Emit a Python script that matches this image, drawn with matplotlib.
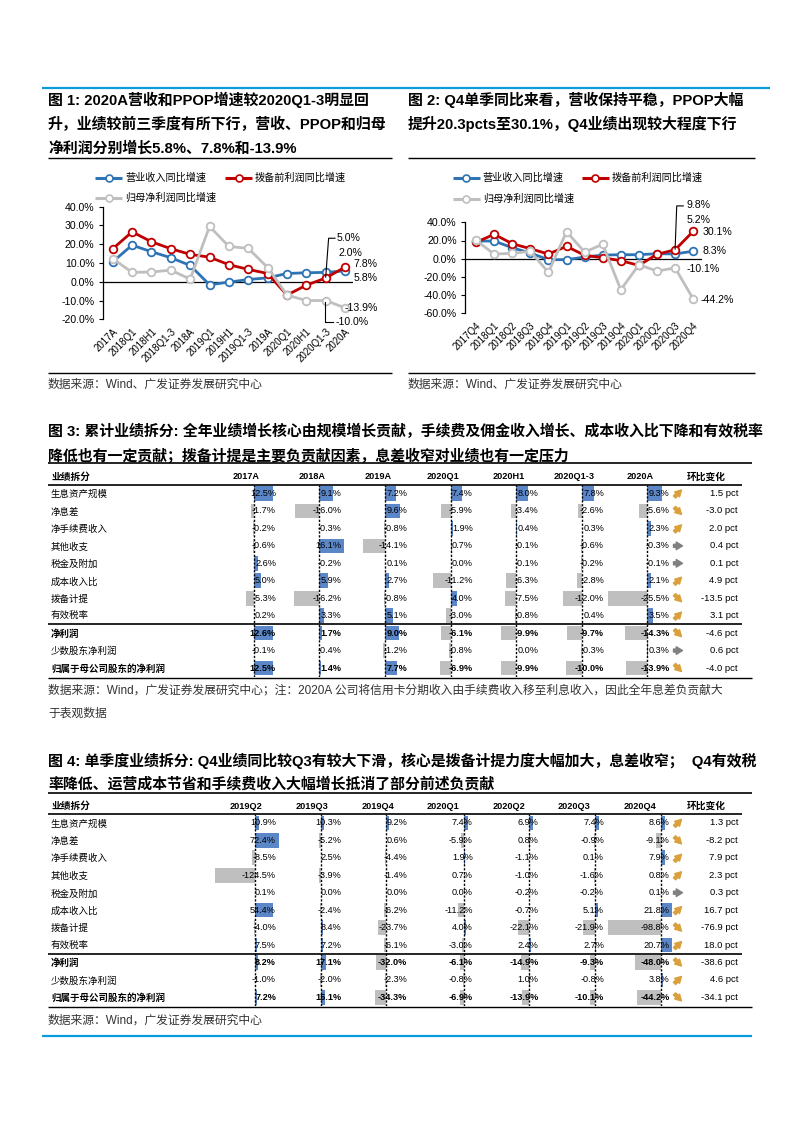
import matplotlib
matplotlib.use('Agg')
import matplotlib.pyplot as plt
import numpy as np

plt.rcParams['font.family'] = ['Liberation Sans', 'Noto Sans CJK SC', 'DejaVu Sans']
plt.rcParams['axes.unicode_minus'] = False

W, H = 793, 1122

# ---------------- chart data ----------------
cats1 = ['2017A', '2018Q1', '2018H1', '2018Q1-3', '2018A', '2019Q1', '2019H1',
         '2019Q1-3', '2019A', '2020Q1', '2020H1', '2020Q1-3', '2020A']
rev1 = [10.7, 19.5, 16.0, 12.8, 8.7, -1.6, -0.2, 1.2, 2.1, 4.4, 4.8, 5.0, 5.8]
ppop1 = [17.6, 26.6, 21.3, 17.6, 14.6, 13.1, 9.1, 6.6, 4.4, -7.1, -1.8, 2.0, 7.8]
np1 = [12.3, 5.0, 5.2, 6.2, 1.4, 29.5, 18.8, 17.8, 7.6, -7.1, -10.0, -10.0, -13.9]

cats2 = ['2017Q4', '2018Q1', '2018Q2', '2018Q3', '2018Q4', '2019Q1', '2019Q2',
         '2019Q3', '2019Q4', '2020Q1', '2020Q2', '2020Q3', '2020Q4']
rev2 = [19.4, 19.4, 12.1, 6.2, -1.1, -1.1, 1.8, 4.0, 4.4, 4.4, 5.5, 5.2, 8.3]
ppop2 = [18.0, 26.8, 16.5, 11.0, 5.1, 13.6, 3.7, 1.1, -2.2, -7.3, 4.8, 9.8, 30.1]
np2 = [20.2, 5.1, 5.9, 8.1, -15.0, 29.7, 7.3, 15.8, -34.1, -6.6, -13.6, -10.1, -44.2]

legend_labels = ['营业收入同比增速', '拨备前利润同比增速', '归母净利润同比增速']

# ---------------- table data ----------------
rows = ['生息资产规模', '净息差', '净手续费收入', '其他收支', '税金及附加', '成本收入比',
        '拨备计提', '有效税率', '净利润', '少数股东净利润', '归属于母公司股东的净利润']
bold_rows = [8, 10]

t3_cols = ['2017A', '2018A', '2019A', '2020Q1', '2020H1', '2020Q1-3', '2020A']
t3_2017A = [12.5, -1.7, -0.2, -0.6, 2.6, 5.0, -5.3, 0.2, 12.6, -0.1, 12.5]
t3_2018A = [9.1, -16.0, -0.3, 16.1, -0.2, 5.9, -16.2, 3.3, 1.7, -0.4, 1.4]
t3_2019A = [7.2, 9.6, -0.8, -14.1, 0.1, 2.7, -0.8, 5.1, 9.0, -1.2, 7.7]
t3_2020Q1 = [7.4, -5.9, 1.9, 0.7, 0.0, -11.2, 4.0, -3.0, -6.1, -0.8, -6.9]
t3_2020H1 = [8.0, -3.4, 0.4, -0.1, -0.1, -6.3, -7.5, -0.8, -9.9, 0.0, -9.9]
t3_2020Q13 = [7.8, -2.6, 0.3, -0.6, -0.2, -2.8, -12.0, 0.4, -9.7, -0.3, -10.0]
t3_2020A = [9.3, -5.6, 2.3, -0.3, -0.1, 2.1, -25.5, 3.5, -14.3, 0.3, -13.9]
t3_change = [1.5, -3.0, 2.0, 0.4, 0.1, 4.9, -13.5, 3.1, -4.6, 0.6, -4.0]

t4_cols = ['2019Q2', '2019Q3', '2019Q4', '2020Q1', '2020Q2', '2020Q3', '2020Q4']
t4_2019Q2 = [10.9, 72.4, -8.5, -124.5, 0.1, 54.4, -4.0, 7.5, 8.2, -1.0, 7.2]
t4_2019Q3 = [10.3, -5.2, 2.5, -3.9, 0.0, -2.4, 8.4, 7.2, 17.1, -2.0, 15.1]
t4_2019Q4 = [9.2, 0.6, -4.4, -1.4, 0.0, -6.2, -23.7, -6.1, -32.0, -2.3, -34.3]
t4_2020Q1 = [7.4, -5.9, 1.9, 0.7, 0.0, -11.2, 4.0, -3.0, -6.1, -0.8, -6.9]
t4_2020Q2 = [6.9, 0.8, -1.1, -1.0, -0.2, -0.7, -22.1, 2.4, -14.9, 1.0, -13.9]
t4_2020Q3 = [7.4, -0.9, 0.1, -1.6, -0.2, 5.1, -21.9, 2.7, -9.3, -0.8, -10.1]
t4_2020Q4 = [8.6, -9.1, 7.9, 0.8, 0.1, 21.8, -98.8, 20.7, -48.0, 3.8, -44.2]
t4_change = [1.3, -8.2, 7.9, 2.3, 0.3, 16.7, -76.9, 18.0, -38.6, 4.6, -34.1]

# ---------------- texts ----------------
title1 = ['图 1: 2020A营收和PPOP增速较2020Q1-3明显回',
          '升，业绩较前三季度有所下行，营收、PPOP和归母',
          '净利润分别增长5.8%、7.8%和-13.9%']
title2 = ['图 2: Q4单季同比来看，营收保持平稳，PPOP大幅',
          '提升20.3pcts至30.1%，Q4业绩出现较大程度下行']
title3 = ['图 3: 累计业绩拆分: 全年业绩增长核心由规模增长贡献，手续费及佣金收入增长、成本收入比下降和有效税率',
          '降低也有一定贡献；拨备计提是主要负贡献因素，息差收窄对业绩也有一定压力']
title4 = ['图 4: 单季度业绩拆分: Q4业绩同比较Q3有较大下滑，核心是拨备计提力度大幅加大，息差收窄；  Q4有效税',
          '率降低、运营成本节省和手续费收入大幅增长抵消了部分前述负贡献']
src12 = '数据来源：Wind、广发证券发展研究中心'
src3 = ['数据来源：Wind，广发证券发展研究中心；注：2020A 公司将信用卡分期收入由手续费收入移至利息收入，因此全年息差负贡献大',
        '于表观数据']
src4 = '数据来源：Wind，广发证券发展研究中心'

BLUE_L, RED_L, GREY_L = '#2E74B5', '#C00000', '#BFBFBF'
BAR_POS, BAR_NEG = '#5B87C9', '#BFBFBF'
ICON, ICON_FLAT = '#D9A03C', '#808080'
RULE = '#0A9BDD'
TFS, SFS = 10.75, 8.5

fig = plt.figure(figsize=(W / 100, H / 100), dpi=100)
pg = fig.add_axes([0, 0, 1, 1])
pg.set_xlim(0, W)
pg.set_ylim(H, 0)
pg.axis('off')
pg.set_zorder(10)


def px_axes(x0, y0, x1, y1):
    return fig.add_axes([x0 / W, 1 - y1 / H, (x1 - x0) / W, (y1 - y0) / H])


def hline(y, x0, x1, color='black', lw=1.0):
    pg.plot([x0, x1], [y, y], color=color, lw=lw, solid_capstyle='butt')


# page frame lines
hline(88, 42, 770, RULE, 1.6)
hline(1036, 42, 752, RULE, 1.6)

for i, t in enumerate(title1):
    pg.text(48, 100 + i * 24, t, fontsize=TFS, fontweight='bold', va='center')
for i, t in enumerate(title2):
    pg.text(408, 100 + i * 24, t, fontsize=TFS, fontweight='bold', va='center')
hline(158, 48, 392)
hline(158, 408, 755)
hline(373, 48, 392)
hline(373, 408, 755)
pg.text(48, 385, src12, fontsize=SFS, color='#333333', va='center')
pg.text(408, 385, src12, fontsize=SFS, color='#333333', va='center')


# ---------------- line charts ----------------
def legend(x_first, x_second, y1, y2):
    spots = [(x_first, y1), (x_second, y1), (x_first, y2)]
    for (x, y), c, lab in zip(spots, [BLUE_L, RED_L, GREY_L], legend_labels):
        pg.plot([x, x + 27], [y, y], color=c, lw=2.2, solid_capstyle='butt')
        pg.plot([x + 13.5], [y], marker='o', ms=5, mfc='white', mec=c, mew=1.2)
        pg.text(x + 30, y, lab, fontsize=7.3, va='center', ha='left')


def line_chart(ax, cats, series, ylim, step, xlim):
    x = np.arange(len(cats))
    for vals, c in zip(series, [BLUE_L, RED_L, GREY_L]):
        ax.plot(x, vals, color=c, lw=2.0, marker='o', ms=5.5, mfc='white',
                mec=c, mew=1.3, zorder=3, clip_on=False)
    ax.axhline(0, color='black', lw=0.9, zorder=2)
    ax.set_xlim(*xlim)
    ax.set_ylim(*ylim)
    ax.set_facecolor('none')
    for s in ['top', 'right', 'bottom']:
        ax.spines[s].set_visible(False)
    ax.spines['left'].set_linewidth(0.9)
    ax.set_yticks(np.arange(ylim[0], ylim[1] + 0.1, step))
    ax.yaxis.set_major_formatter(plt.FuncFormatter(lambda v, p: f'{v:.1f}%'))
    ax.set_xticks(x)
    ax.set_xticklabels(cats, rotation=45, ha='right', rotation_mode='anchor')
    ax.tick_params(axis='x', length=0, pad=5, labelsize=7)
    ax.tick_params(axis='y', length=3, width=0.8, pad=3, labelsize=7.6)


def leader(ax, pts, label_xy, text):
    xs, ys = zip(*pts)
    ax.plot(xs, ys, color='black', lw=0.8, clip_on=False, zorder=4)
    ax.text(label_xy[0], label_xy[1], text, fontsize=7.6, va='center', clip_on=False)


legend(95, 225, 178, 198)
ax1 = px_axes(102.7, 206.7, 353, 319.3)
line_chart(ax1, cats1, [rev1, ppop1, np1], (-20, 40), 10, (-0.52, 12.41))
leader(ax1, [(11.0, 2.5), (11.15, 23.2), (11.48, 23.2)], (11.57, 23.2), '5.0%')
ax1.text(11.64, 15.3, '2.0%', fontsize=7.6, va='center')
ax1.text(12.43, 9.5, '7.8%', fontsize=7.6, va='center', clip_on=False)
ax1.text(12.43, 2.0, '5.8%', fontsize=7.6, va='center', clip_on=False)
ax1.text(11.95, -14.0, '-13.9%', fontsize=7.6, va='center', clip_on=False)
leader(ax1, [(10.97, -10.6), (10.97, -21.3), (11.4, -21.3)], (11.5, -21.3), '-10.0%')

legend(452.7, 581.7, 178, 199)
ax2 = px_axes(465, 222.3, 701.7, 313.3)
line_chart(ax2, cats2, [rev2, ppop2, np2], (-60, 40), 20, (-0.61, 12.47))
leader(ax2, [(11.0, 10.5), (11.09, 58.0), (11.45, 58.0)], (11.65, 58.6), '9.8%')
ax2.text(11.65, 42.0, '5.2%', fontsize=7.6, va='center', clip_on=False)
ax2.text(12.54, 29.7, '30.1%', fontsize=7.6, va='center', clip_on=False)
ax2.text(12.54, 8.4, '8.3%', fontsize=7.6, va='center', clip_on=False)
ax2.text(11.65, -11.0, '-10.1%', fontsize=7.6, va='center', clip_on=False)
ax2.text(12.38, -45.0, '-44.2%', fontsize=7.6, va='center', clip_on=False)

# ---------------- tables ----------------
COL_X0, COL_STEP, CELL_W = 246.5, 65.6, 64
ROW_STEP = 17.45


def arrow_icon(x, y, d):
    if abs(d) < 1:
        a, b, c = (x - 4.5, y), (x + 4.5, y), ICON_FLAT
        hw = 0.55
    elif d > 0:
        a, b, c = (x - 3.5, y + 3.5), (x + 3.5, y - 3.5), ICON
        hw = 0.5
    else:
        a, b, c = (x - 3.5, y - 3.5), (x + 3.5, y + 3.5), ICON
        hw = 0.5
    pg.annotate('', xy=b, xytext=a,
                arrowprops=dict(arrowstyle=f'simple,head_length=0.45,head_width={hw},tail_width=0.22',
                                color=c, shrinkA=0, shrinkB=0, mutation_scale=10))


def draw_table(top, titles, columns, values, change, groups):
    for i, t in enumerate(titles):
        pg.text(48, top - 32 + i * 24, t, fontsize=TFS, fontweight='bold', va='center')
    n = len(rows)
    row0 = top + 30.2
    y_head = top + 13.4
    y_under = top + 21.7
    y_bottom = row0 + ROW_STEP * (n - 0.5) + 1
    hline(top, 48, 752, lw=1.2)
    hline(y_under, 48, 742, lw=1.2)
    hline(row0 + ROW_STEP * 7.5, 48, 742, lw=1.2)
    hline(y_bottom, 48, 752, lw=1.0)
    pg.text(51, y_head, '业绩拆分', fontsize=7, fontweight='bold', va='center')
    pg.text(706.7, y_head, '环比变化', fontsize=7, fontweight='bold', va='center', ha='center')
    for i, lab in enumerate(rows):
        pg.text(51, row0 + i * ROW_STEP + 1, lab, fontsize=6.8, va='center',
                fontweight='bold' if i in bold_rows else 'normal')
    for j, (col, vals) in enumerate(zip(columns, values)):
        cx = COL_X0 + j * COL_STEP
        pg.text(cx, y_head, col, fontsize=6.6, fontweight='bold', ha='center', va='center')
        lo, hi = groups[j]
        ax = px_axes(cx - CELL_W / 2, row0 - ROW_STEP / 2, cx + CELL_W / 2,
                     row0 + ROW_STEP * (n - 0.5))
        ax.set_xlim(lo, hi)
        ax.set_ylim(n - 0.5, -0.5)
        ax.axis('off')
        ax.barh(np.arange(n), vals, height=0.84,
                color=[BAR_POS if v > 0 else BAR_NEG for v in vals])
        ax.axvline(0, color='black', lw=1.0, ls=(0, (1.6, 1.2)))
        for i, v in enumerate(vals):
            pg.text(cx + CELL_W / 2 - 2.5, row0 + i * ROW_STEP, f'{v:.1f}%', fontsize=6.6,
                    ha='right', va='center',
                    fontweight='bold' if i in bold_rows else 'normal')
    for i, d in enumerate(change):
        y = row0 + i * ROW_STEP
        arrow_icon(678, y, d)
        pg.text(738, y, f'{d:.1f} pct', fontsize=6.8, ha='right', va='center')


t3_values = [t3_2017A, t3_2018A, t3_2019A, t3_2020Q1, t3_2020H1, t3_2020Q13, t3_2020A]
t3_all = np.concatenate(t3_values)
t3_groups = [(t3_all.min(), t3_all.max())] * len(t3_values)
draw_table(463.3, title3, t3_cols, t3_values, t3_change, t3_groups)
for i, t in enumerate(src3):
    pg.text(48, 690 + i * 24, t, fontsize=SFS, color='#333333', va='center')

t4_values = [t4_2019Q2, t4_2019Q3, t4_2019Q4, t4_2020Q1, t4_2020Q2, t4_2020Q3, t4_2020Q4]
g1 = np.concatenate(t4_values[:3])
g2 = np.concatenate(t4_values[3:])
t4_groups = [(g1.min(), g1.max())] * 3 + [(g2.min(), g2.max())] * 4
draw_table(792.7, title4, t4_cols, t4_values, t4_change, t4_groups)
pg.text(48, 1021, src4, fontsize=SFS, color='#333333', va='center')

fig.savefig('out.png', dpi=100)
